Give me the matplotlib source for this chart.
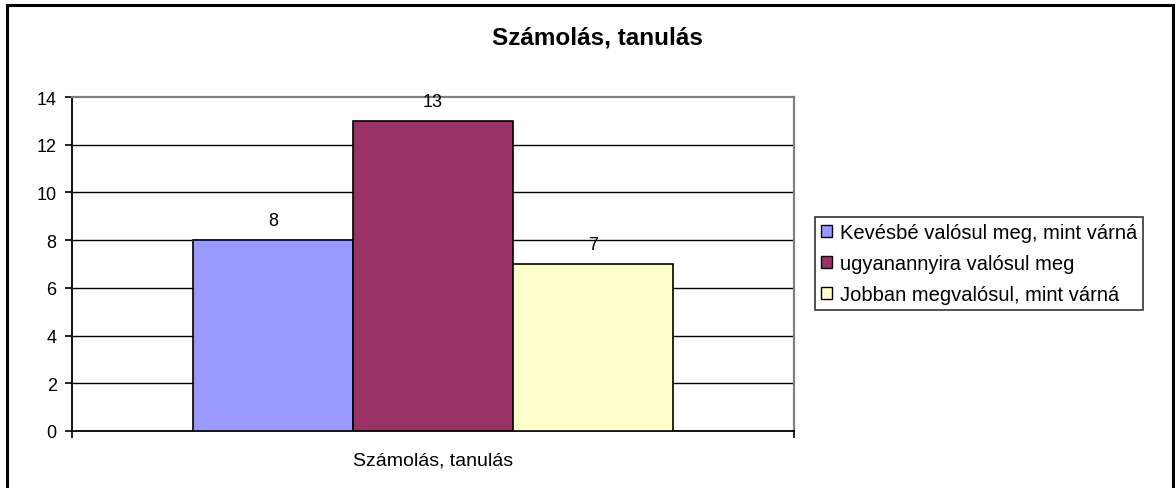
import matplotlib
matplotlib.use("Agg")
import matplotlib.pyplot as plt
from matplotlib.patches import Rectangle, Patch

plt.rcParams['font.family'] = ['Liberation Sans', 'DejaVu Sans']

title = "Számolás, tanulás"
category = "Számolás, tanulás"
series = ["Kevésbé valósul meg, mint várná", "ugyanannyira valósul meg", "Jobban megvalósul, mint várná"]
values = [8, 13, 7]
colors = ["#9999FF", "#993366", "#FFFFCC"]
yticks = [0, 2, 4, 6, 8, 10, 12, 14]

W, H = 1175, 489
fig = plt.figure(figsize=(W / 100, H / 100), dpi=100)

# outer frame
fig.patches.append(Rectangle((7 / W, -0.01), (1173 - 7) / W, 1 - 6 / H + 0.01,
                             transform=fig.transFigure, fill=False,
                             edgecolor="black", linewidth=2.2))

ax = fig.add_axes([72 / W, 1 - 432 / H, (794 - 72) / W, (432 - 98) / H])
bw = 160 / 722
offsets = [-bw, 0, bw]
for off, v, c in zip(offsets, values, colors):
    ax.bar(off, v, width=bw, color=c, edgecolor="black", linewidth=1.2, zorder=3)
    ax.text(off, v + 0.45, str(v), ha="center", va="bottom", fontsize=13, zorder=4)

ax.set_xlim(-0.5, 0.5)
ax.set_ylim(0, 14)
ax.set_yticks(yticks)
ax.set_yticklabels([str(t) for t in yticks], fontsize=13)
for t in yticks[1:-1]:
    ax.axhline(t, color="black", linewidth=1.0, zorder=1)
ax.set_xticks([-0.5, 0.5])
ax.set_xticklabels(["", ""])
ax.tick_params(axis="x", direction="out", length=5, width=1.2)
ax.tick_params(axis="y", direction="out", length=5, width=1.2, pad=6)
ax.text(0.0, -0.06, category, transform=ax.get_xaxis_transform(),
        ha="center", va="top", fontsize=14)
ax.spines["left"].set_linewidth(1.3)
ax.spines["bottom"].set_linewidth(1.3)
ax.spines["top"].set_color("#808080")
ax.spines["right"].set_color("#808080")
ax.spines["top"].set_linewidth(1.6)
ax.spines["right"].set_linewidth(1.6)

fig.text(597 / W, 1 - 38 / H, title, ha="center", va="center", fontsize=17.5, fontweight="bold")

handles = [Patch(facecolor=c, edgecolor="black", linewidth=1.0) for c in colors]
leg = fig.legend(handles, series, loc="upper left", bbox_to_anchor=(815 / W, 1 - 218 / H),
                 frameon=True, fancybox=False, fontsize=14.5, handlelength=0.55, handleheight=0.55,
                 handletextpad=0.4, labelspacing=0.6, borderpad=0.3, borderaxespad=0)
leg.get_frame().set_edgecolor("black")
leg.get_frame().set_linewidth(1.2)

fig.savefig("out.png", dpi=100)
